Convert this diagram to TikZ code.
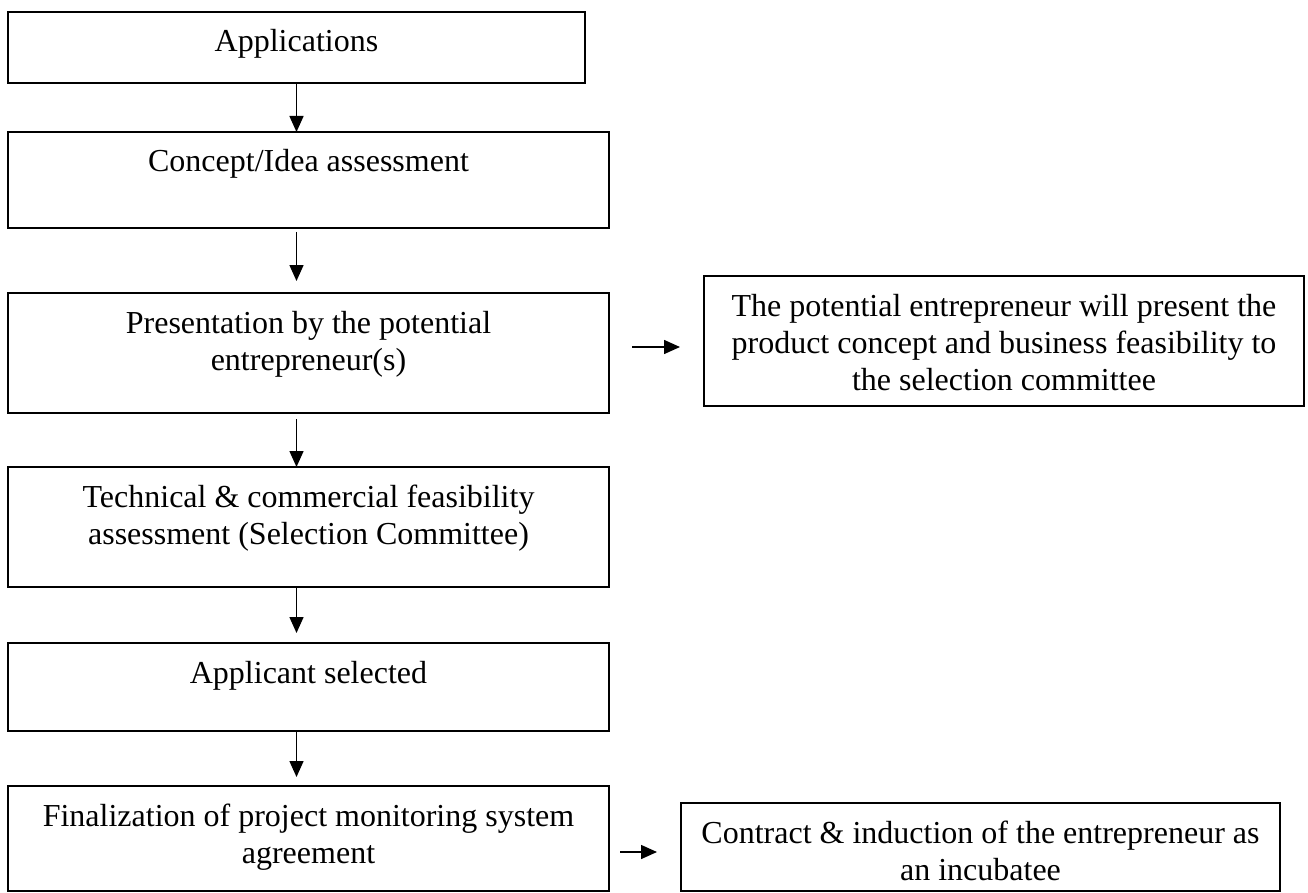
\documentclass[tikz,border=0pt]{standalone}
\usepackage{fontspec}
\setmainfont{Liberation Serif}
\usetikzlibrary{arrows.meta,calc}
\newcommand{\bxt}[3]{\parbox[c][#2][t]{#1}{\centering\rule{0pt}{40pt}#3}}
\tikzset{
  flowbox/.style={draw=black, line width=2pt, inner sep=0pt, outer sep=0pt, anchor=north west, font=\fontsize{32}{37}\selectfont},
  arr/.style={line width=1.5pt, -{Triangle[length=16pt,width=14pt]}},
}
\begin{document}
\begin{tikzpicture}[x=1pt,y=-1pt]
\useasboundingbox (0,0) rectangle (1308,893);
\node[flowbox] (b1) at (8,12) {\bxt{577pt}{71pt}{Applications}};
\node[flowbox] (b2) at (8,132) {\bxt{601pt}{96pt}{Concept/Idea assessment}};
\node[flowbox] (b3) at (8,293) {\bxt{601pt}{120pt}{Presentation by the potential\\entrepreneur(s)}};
\node[flowbox] (b4) at (8,467) {\bxt{601pt}{120pt}{Technical \& commercial feasibility\\assessment (Selection Committee)}};
\node[flowbox] (b5) at (8,643) {\bxt{601pt}{88pt}{Applicant selected}};
\node[flowbox] (b6) at (8,786) {\bxt{601pt}{105pt}{Finalization of project monitoring system\\agreement}};
\node[flowbox] (r1) at (704,276) {\bxt{600pt}{130pt}{The potential entrepreneur will present the\\product concept and business feasibility to\\the selection committee}};
\node[flowbox] (r2) at (681,803) {\bxt{599pt}{88pt}{Contract \& induction of the entrepreneur as\\an incubatee}};
\draw[arr] (b1.south) -- (b1.south |- b2.north);
\draw[arr, shorten <=4pt, shorten >=12pt] (b1.south |- b2.south) -- (b1.south |- b3.north);
\draw[arr, shorten <=6pt] (b1.south |- b3.south) -- (b1.south |- b4.north);
\draw[arr, shorten >=10pt] (b1.south |- b4.south) -- (b1.south |- b5.north);
\draw[arr, shorten >=9pt] (b1.south |- b5.south) -- (b1.south |- b6.north);
\coordinate (h1) at ([yshift=-54pt]b3.north east);
\draw[arr, shorten <=23pt, shorten >=24pt] (h1) -- (h1 -| r1.west);
\coordinate (h2) at ([yshift=-66pt]b6.north east);
\draw[arr, shorten <=11pt, shorten >=24pt] (h2) -- (h2 -| r2.west);
\end{tikzpicture}
\end{document}
